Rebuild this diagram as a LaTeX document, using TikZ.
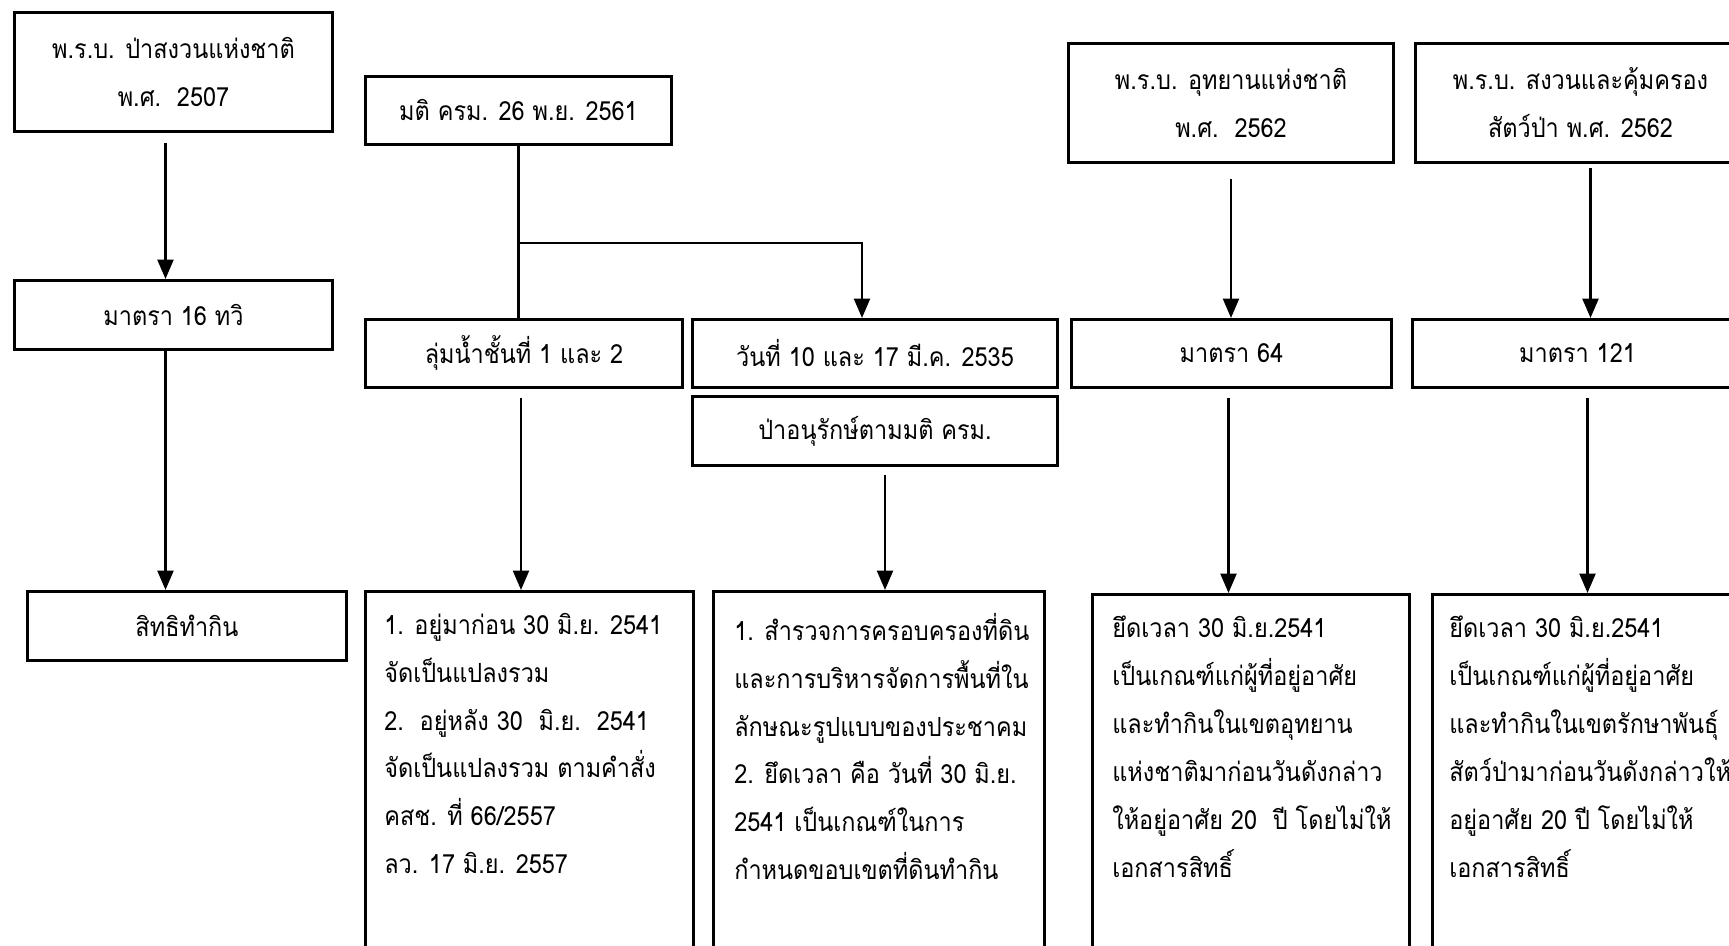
\documentclass[tikz,border=0pt]{standalone}
\usepackage{fontspec}
\newfontfamily\thai[Script=Thai,FakeStretch=0.89]{Loma}
\usetikzlibrary{arrows.meta,positioning,calc}

\newcommand{\thaitext}{\thai\fontsize{7.5}{13.6}\selectfont}
\tikzset{
  box/.style={draw, line width=0.8pt, anchor=north west, inner sep=0pt, align=center, font=\thaitext},
  note/.style={anchor=north west, inner sep=0pt, align=left, font=\thaitext},
}

\begin{document}
\begin{tikzpicture}[x=0.01cm, y=-0.01cm, ->, >={Triangle[width=4.5pt,length=5.5pt]}, line width=0.75pt]
  \useasboundingbox (0,0) rectangle (1729,946);
  \clip (0,0) rectangle (1729,946);

  % column 1
  \node[box, minimum width=3.18cm, minimum height=1.19cm] (pasanguan) at (13,11) {พ.ร.บ. ป่าสงวนแห่งชาติ\\พ.ศ.~~2507};
  \node[box, minimum width=3.18cm, minimum height=0.69cm] (m16) at (13,279) {มาตรา 16 ทวิ};
  \node[box, minimum width=3.19cm, minimum height=0.69cm] (sitthi) at (26,590) {สิทธิทำกิน};

  % column 2
  \node[box, minimum width=3.06cm, minimum height=0.68cm] (mati) at (364,75) {มติ ครม. 26 พ.ย. 2561};
  \node[box, minimum width=3.17cm, minimum height=0.68cm] (lumnam) at (364,318) {ลุ่มน้ำชั้นที่ 1 และ 2};
  \node[box, minimum width=3.65cm, minimum height=0.68cm] (wanthi) at (691,318) {วันที่ 10 และ 17 มี.ค. 2535};
  \node[box, minimum width=3.65cm, minimum height=0.69cm] (anurak) at (691,395) {ป่าอนุรักษ์ตามมติ ครม.};
  \node[box, minimum width=3.28cm, minimum height=4cm] (lumnamdet) at (364,590) {};
  \node[note] at ([shift={(19,22)}]lumnamdet.north west) {1. อยู่มาก่อน 30 มิ.ย. 2541\\จัดเป็นแปลงรวม\\2.~~อยู่หลัง 30~~มิ.ย.~~2541\\จัดเป็นแปลงรวม ตามคำสั่ง\\คสช. ที่ 66/2557\\ลว. 17 มิ.ย. 2557};
  \node[box, minimum width=3.31cm, minimum height=4cm] (anurakdet) at (712,590) {};
  \node[note] at ([shift={(21,22)}]anurakdet.north west) {1. สำรวจการครอบครองที่ดิน\\และการบริหารจัดการพื้นที่ใน\\ลักษณะรูปแบบของประชาคม\\2. ยึดเวลา คือ วันที่ 30 มิ.ย.\\2541 เป็นเกณฑ์ในการ\\กำหนดขอบเขตที่ดินทำกิน};

  % column 3
  \node[box, minimum width=3.25cm, minimum height=1.19cm] (uthayan) at (1067,42) {พ.ร.บ. อุทยานแห่งชาติ\\พ.ศ.~~2562};
  \node[box, minimum width=3.20cm, minimum height=0.68cm] (m64) at (1070,318) {มาตรา 64};
  \node[box, minimum width=3.17cm, minimum height=4cm] (m64det) at (1091,593) {};
  \node[note] at ([shift={(20,22)}]m64det.north west) {ยึดเวลา 30 มิ.ย.2541\\เป็นเกณฑ์แก่ผู้ที่อยู่อาศัย\\และทำกินในเขตอุทยาน\\แห่งชาติมาก่อนวันดังกล่าว\\ให้อยู่อาศัย 20~~ปี โดยไม่ให้\\เอกสารสิทธิ์};

  % column 4
  \node[box, minimum width=3.30cm, minimum height=1.19cm] (satpa) at (1414,42) {พ.ร.บ. สงวนและคุ้มครอง\\สัตว์ป่า พ.ศ. 2562};
  \node[box, minimum width=3.30cm, minimum height=0.68cm] (m121) at (1411,318) {มาตรา 121};
  \node[box, minimum width=3.20cm, minimum height=4cm] (m121det) at (1431,593) {};
  \node[note] at ([shift={(17,22)}]m121det.north west) {ยึดเวลา 30 มิ.ย.2541\\เป็นเกณฑ์แก่ผู้ที่อยู่อาศัย\\และทำกินในเขตรักษาพันธุ์\\สัตว์ป่ามาก่อนวันดังกล่าวให้\\อยู่อาศัย 20 ปี โดยไม่ให้\\เอกสารสิทธิ์};

  % connectors
  \draw[shorten <=0.1cm] ([xshift=-0.08cm]pasanguan.south) -- ([xshift=-0.08cm]m16.north);
  \draw ([xshift=-0.08cm]m16.south) -- ([xshift=-0.08cm]m16.south |- sitthi.north);
  \path (mati.south) ++(0,97) coordinate (split);
  \draw[-] (mati.south) -- (mati.south |- lumnam.north);
  \draw (split) -| ([xshift=-0.13cm]wanthi.north);
  \draw[shorten <=0.09cm] ([xshift=-0.03cm]lumnam.south) -- ([xshift=-0.03cm]lumnam.south |- lumnamdet.north);
  \draw[shorten <=0.08cm] ([xshift=0.1cm]anurak.south) -- ([xshift=0.1cm]anurak.south |- anurakdet.north);
  \draw[shorten <=0.15cm] (uthayan.south) -- (uthayan.south |- m64.north);
  \draw[shorten <=0.09cm] ([xshift=-0.03cm]m64.south) -- ([xshift=-0.03cm]m64.south |- m64det.north);
  \draw[shorten <=0.04cm] ([xshift=0.1cm]satpa.south) -- ([xshift=0.1cm]satpa.south |- m121.north);
  \draw[shorten <=0.09cm] ([xshift=0.1cm]m121.south) -- ([xshift=0.1cm]m121.south |- m121det.north);
\end{tikzpicture}
\end{document}
